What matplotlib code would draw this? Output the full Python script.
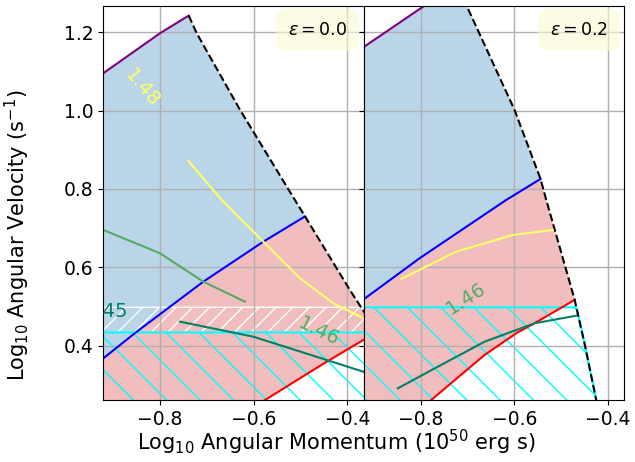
import numpy as np
import matplotlib.pyplot as plt

plt.rcParams['font.size'] = 13.5

# ---- eps = 0.0 ----
purple0_x = [-0.95, -0.921, -0.8, -0.7387]
purple0_y = [1.071, 1.0955, 1.1975, 1.2425]
dash0_x = [-0.7387, -0.7216, -0.6292, -0.5161, -0.4905, -0.3944, -0.3667, -0.337, -0.21]
dash0_y = [1.2425, 1.1972, 1.0018, 0.7797, 0.730, 0.5414, 0.4903, 0.4355, 0.20]
blue0_x = [-0.95, -0.921, -0.8497, -0.7076, -0.5795, -0.4905]
blue0_y = [0.340, 0.3678, 0.4357, 0.5634, 0.6655, 0.730]
red0_x = [-0.62, -0.5759, -0.4442, -0.366, -0.337]
red0_y = [0.229, 0.2614, 0.3592, 0.4146, 0.4355]

yel0_x = [-0.7396, -0.6683, -0.5795, -0.5012, -0.4301, -0.366]
yel0_y = [0.8716, 0.772, 0.6655, 0.5721, 0.5082, 0.470]
grn0_x = [-0.921, -0.8, -0.7076, -0.6186]
grn0_y = [0.6954, 0.6359, 0.5634, 0.5123]
teal0_x = [-0.7573, -0.6009, -0.4442, -0.366]
teal0_y = [0.4613, 0.423, 0.3635, 0.3336]

# ---- eps = 0.2 ----
purple1_x = [-0.95, -0.9232, -0.7915, -0.7231]
purple1_y = [1.139, 1.1608, 1.2678, 1.3234]
dash1_x = [-0.7231, -0.7025, -0.5994, -0.5439, -0.5317, -0.471, -0.45, -0.425, -0.414]
dash1_y = [1.3234, 1.2699, 1.0019, 0.8256, 0.7721, 0.517, 0.4061, 0.2614, 0.20]
blue1_x = [-0.95, -0.9232, -0.8021, -0.6171, -0.5439]
blue1_y = [0.493, 0.5167, 0.6231, 0.772, 0.8256]
red1_x = [-0.79, -0.7772, -0.6634, -0.5958, -0.5567, -0.471]
red1_y = [0.2485, 0.2614, 0.3763, 0.4317, 0.4572, 0.517]

yel1_x = [-0.8412, -0.7238, -0.603, -0.5176]
yel1_y = [0.5703, 0.64, 0.6826, 0.6954]
teal1_x = [-0.8485, -0.7631, -0.6634, -0.5567, -0.4677]
teal1_y = [0.2912, 0.3464, 0.4102, 0.4572, 0.4766]

levels = [1.45, 1.46, 1.47, 1.48]
lev_colors = plt.cm.summer(np.linspace(0, 1, len(levels)))

eps_labels = [r'$\epsilon = 0.0$', r'$\epsilon = 0.2$']
hatch_top = [0.434, 0.498]
band_top = 0.498


def below(dx, dy, ytop, ybot=0.2, xleft=-0.95):
    # region left of the dashed boundary and under ytop
    dx = np.asarray(dx)
    dy = np.asarray(dy)
    xi = np.interp(ytop, dy[::-1], dx[::-1])
    m = (dy < ytop) & (dy > ybot)
    xs = np.concatenate([[xleft, xi], dx[m], [np.interp(ybot, dy[::-1], dx[::-1]), xleft]])
    ys = np.concatenate([[ytop, ytop], dy[m], [ybot, ybot]])
    return xs, ys


fig, axes = plt.subplots(1, 2, sharey=True, figsize=(6.35, 4.62), dpi=100)
fig.subplots_adjust(left=0.1622, right=0.9827, bottom=0.1342, top=0.987, wspace=0)

panels = [
    (purple0_x, purple0_y, dash0_x, dash0_y, blue0_x, blue0_y, red0_x, red0_y, 4, 7),
    (purple1_x, purple1_y, dash1_x, dash1_y, blue1_x, blue1_y, red1_x, red1_y, 3, 5),
]

for i, ax in enumerate(axes):
    px, py, dx, dy, bx, by, rx, ry, jb, jr = panels[i]

    # blue region: above the blue line, under purple / dashed
    fx = list(px) + list(dx[1:jb]) + list(bx[::-1])
    fy = list(py) + list(dy[1:jb]) + list(by[::-1])
    ax.fill(fx, fy, color='C0', alpha=0.3, lw=0)

    # red region: between blue and red lines
    fx = list(bx) + list(dx[jb + 1:jr]) + list(rx[::-1]) + [-0.95]
    fy = list(by) + list(dy[jb + 1:jr]) + list(ry[::-1]) + [ry[0]]
    ax.fill(fx, fy, color='C3', alpha=0.3, lw=0)

    # hatched regions
    if i == 0:
        hx, hy = below(dx, dy, band_top, hatch_top[0])
        ax.fill(hx, hy, facecolor='none', edgecolor='white', hatch='//', lw=1.0)
    hx, hy = below(dx, dy, hatch_top[i])
    ax.fill(hx, hy, facecolor='none', edgecolor='cyan', hatch='\\', lw=1.5)

    ax.plot(px, py, color='purple', lw=1.5)
    ax.plot(bx, by, color='blue', lw=1.5)
    ax.plot(rx, ry, color='red', lw=1.5)
    ax.plot(dx, dy, color='black', ls='--', lw=1.5)

    ax.text(0.937, 0.94, eps_labels[i], transform=ax.transAxes, ha='right', va='center',
            fontsize=12.5,
            bbox=dict(boxstyle='round,pad=0.7', fc='lightgoldenrodyellow', ec='none', alpha=0.6))

    ax.set_xlim(-0.9217, -0.3657)
    ax.set_ylim(0.2614, 1.267)
    ax.set_xticks([-0.8, -0.6, -0.4])
    ax.set_yticks([0.4, 0.6, 0.8, 1.0, 1.2])
    ax.grid(True, color='#b0b0b0', lw=1.0)

ax0, ax1 = axes
ax0.plot(yel0_x, yel0_y, color=lev_colors[3], lw=1.5)
ax0.plot(grn0_x, grn0_y, color=lev_colors[1], lw=1.5)
ax0.plot(teal0_x, teal0_y, color=lev_colors[0], lw=1.5)
ax0.text(-0.8384, 1.058, '1.48', color=lev_colors[3], rotation=-50, ha='center', va='center',
         fontsize=14, clip_on=True)
ax0.text(-0.4621, 0.4357, '1.46', color=lev_colors[1], rotation=-26, ha='center', va='center',
         fontsize=14, clip_on=True)
ax0.text(-0.915, 0.488, '1.45', color=lev_colors[0], ha='center', va='center',
         fontsize=14, clip_on=True)

ax1.plot(yel1_x, yel1_y, color=lev_colors[3], lw=1.5)
ax1.plot(teal1_x, teal1_y, color=lev_colors[0], lw=1.5)
ax1.text(-0.7025, 0.5192, '1.46', color=lev_colors[1], rotation=33, ha='center', va='center',
         fontsize=14, clip_on=True)

fig.text(0.53, 0.043, r'Log$_{10}$ Angular Momentum ($10^{50}$ erg s)', ha='center', va='center',
         fontsize=15)
fig.text(0.028, 0.49, r'Log$_{10}$ Angular Velocity (s$^{-1}$)', rotation=90,
         ha='center', va='center', fontsize=15)

fig.savefig('out.png', dpi=100)
